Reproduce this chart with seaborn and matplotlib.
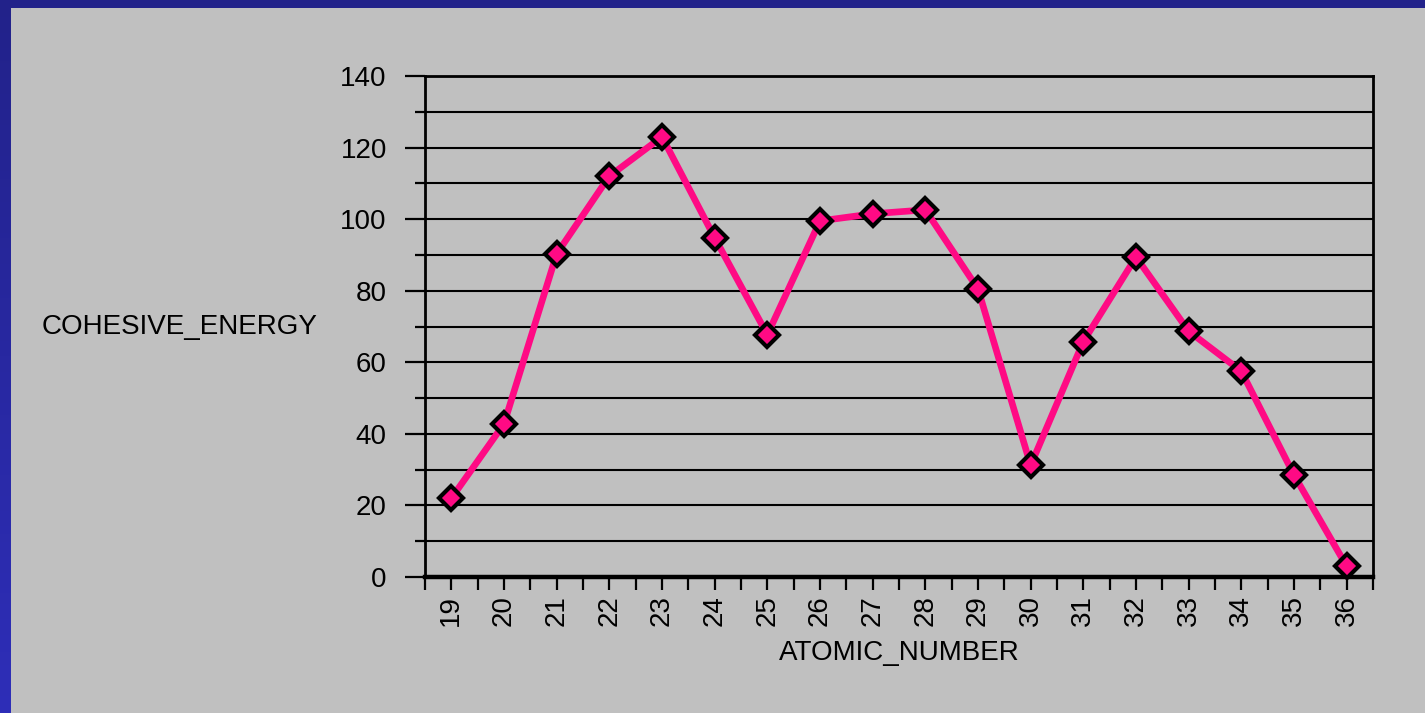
import numpy as np
import pandas as pd
import seaborn as sns
import matplotlib.pyplot as plt
from matplotlib.patches import Rectangle

# cohesive energy (kcal/mol) vs atomic number, K .. Kr
atomic_number = [19, 20, 21, 22, 23, 24, 25, 26, 27, 28, 29, 30, 31, 32, 33, 34, 35, 36]
cohesive_energy = [22.0, 42.8, 90.3, 112.0, 123.0, 94.8, 67.7, 99.5, 101.5, 102.6,
                   80.5, 31.2, 65.8, 89.4, 68.7, 57.5, 28.5, 3.0]
y_ticks = [0, 20, 40, 60, 80, 100, 120, 140]

grey = '#c0c0c0'
pink = '#ff0a84'

sns.set_style('white', {'axes.facecolor': grey, 'figure.facecolor': grey,
                        'axes.edgecolor': 'black', 'text.color': 'black',
                        'axes.labelcolor': 'black', 'xtick.color': 'black',
                        'ytick.color': 'black'})
plt.rcParams['font.family'] = ['Liberation Sans', 'DejaVu Sans']

df = pd.DataFrame({'ATOMIC_NUMBER': atomic_number, 'COHESIVE_ENERGY': cohesive_energy})

fig = plt.figure(figsize=(14.25, 7.13), dpi=100)

# blue slide border: thin strip on top, gradient strip on the left
fig.patches.append(Rectangle((0, 1 - 8 / 713), 1, 8 / 713, transform=fig.transFigure,
                             facecolor='#22228a', edgecolor='none', zorder=0))
bax = fig.add_axes([0, 0, 11 / 1425, 1])
grad = np.linspace(0, 1, 256)[:, None]
c0 = np.array([34, 34, 138]) / 255
c1 = np.array([46, 46, 184]) / 255
img = c0[None, None, :] * (1 - grad[:, :, None]) + c1[None, None, :] * grad[:, :, None]
bax.imshow(img, aspect='auto', extent=[0, 1, 0, 1])
bax.axis('off')

ax = fig.add_axes([425 / 1425, (713 - 577) / 713, 948 / 1425, 501 / 713])
sns.lineplot(data=df, x='ATOMIC_NUMBER', y='COHESIVE_ENERGY', ax=ax, color=pink,
             linewidth=4.8, marker='D', markersize=12, markerfacecolor=pink,
             markeredgecolor='black', markeredgewidth=3.0, zorder=5, clip_on=False)

ax.set_xlim(18.5, 36.5)
ax.set_ylim(0, 140)
ax.set_xticks(atomic_number)
ax.set_xticklabels([str(v) for v in atomic_number], rotation=90, fontsize=20)
ax.set_xticks(np.arange(18.5, 37, 1), minor=True)
ax.set_yticks(y_ticks)
ax.set_yticklabels([str(v) for v in y_ticks], fontsize=20)
ax.set_yticks(range(0, 141, 10), minor=True)

ax.grid(axis='y', which='both', color='black', linewidth=1.5)
ax.set_axisbelow(True)

ax.tick_params(axis='x', which='both', direction='out', length=9.5, width=1.6,
               color='black', labelcolor='black', pad=3.5, bottom=True)
ax.tick_params(axis='y', which='major', direction='out', length=14.5, width=1.6,
               color='black', labelcolor='black', pad=13, left=True)
ax.tick_params(axis='y', which='minor', direction='out', length=7.2, width=1.6,
               color='black', left=True)

for side in ['top', 'right', 'left']:
    ax.spines[side].set_linewidth(2.0)
ax.spines['bottom'].set_linewidth(3.2)

ax.set_ylabel('COHESIVE_ENERGY', rotation=0, fontsize=20, ha='left', va='center',
              color='black')
ax.yaxis.set_label_coords(-0.404, 0.5)
ax.set_xlabel('ATOMIC_NUMBER', fontsize=20, ha='center', va='center', color='black')
ax.xaxis.set_label_coords(0.5, -0.152)

fig.savefig('out.png', dpi=100, facecolor=grey)
